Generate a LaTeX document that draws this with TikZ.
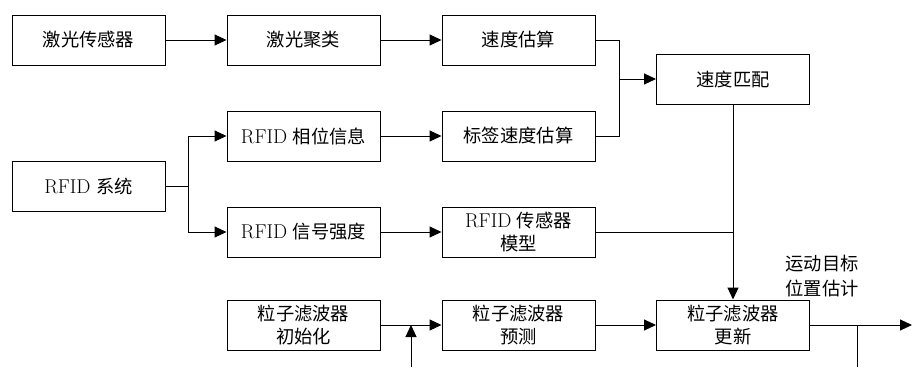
\documentclass[tikz,border=0pt]{standalone}
\usepackage{fontspec}
\newfontfamily\cjk{Noto Sans CJK SC}
\newcommand{\rf}{{\fontsize{20}{23}\selectfont RFID}}
\usetikzlibrary{arrows.meta,calc}
\begin{document}
\begin{tikzpicture}[x=1pt,y=-1pt,
 box/.style={draw,line width=1pt,minimum width=153pt,minimum height=50pt,inner sep=0pt,align=center,font=\fontsize{18.3}{23}\selectfont},
 arr/.style={line width=1pt,-{Triangle[length=12pt,width=11pt]}},
 ln/.style={line width=1pt}]
\useasboundingbox (0,0) rectangle (912,367);
% row 1
\node[box] (ls) at (88.5,40) {\cjk 激光传感器};
\node[box] (lc) at (303.5,40) {\cjk 激光聚类};
\node[box] (ve) at (518.5,40) {\cjk 速度估算};
\node[box] (vm) at (733,79) {\cjk 速度匹配};
% row 2
\node[box] (ph) at (303.5,136) {\rf\ {\cjk 相位信息}};
\node[box] (tv) at (518.5,136) {\cjk 标签速度估算};
\node[box] (rs) at (88.5,186) {\rf\ {\cjk 系统}};
% row 3
\node[box] (ss) at (303.5,232) {\rf\ {\cjk 信号强度}};
\node[box] (sm) at (518.5,232) {\rf\ {\cjk 传感器}\\{\cjk 模型}};
% row 4
\node[box] (pi) at (303.5,325) {\cjk 粒子滤波器\\\cjk 初始化};
\node[box] (pp) at (518.5,325) {\cjk 粒子滤波器\\\cjk 预测};
\node[box] (pu) at (733,325) {\cjk 粒子滤波器\\\cjk 更新};
\node[align=center,font=\fontsize{18.3}{25}\selectfont\cjk] (lbl) at (822,276) {运动目标\\位置估计};
% coordinates
\coordinate (j1) at (619,79);
\coordinate (j2) at (188,186);
\coordinate (b1) at (411,367);
\coordinate (out) at (912,325);
\coordinate (f1) at (857,325);
\coordinate (f2) at (857,367);
% connectors
\draw[arr] (ls) -- (lc);
\draw[arr] (lc) -- (ve);
\draw[ln] (ve.east) -| (j1);
\draw[ln] (tv.east) -| (j1);
\draw[arr] (j1) -- (vm.west);
\draw[ln] (rs.east) -- (j2);
\draw[arr] (j2) |- (ph.west);
\draw[arr] (j2) |- (ss.west);
\draw[arr] (ph) -- (tv);
\draw[arr] (ss) -- (sm);
\draw[ln] (sm.east) -- (sm.east -| vm.south);
\draw[arr] (vm.south) -- (pu.north);
\draw[arr] (pi) -- (pp);
\draw[arr] (b1) -- (b1 |- pi.east);
\draw[arr] (pp) -- (pu);
\draw[arr] (pu.east) -- (out);
\draw[ln] (f1) -- (f2);
\end{tikzpicture}
\end{document}
